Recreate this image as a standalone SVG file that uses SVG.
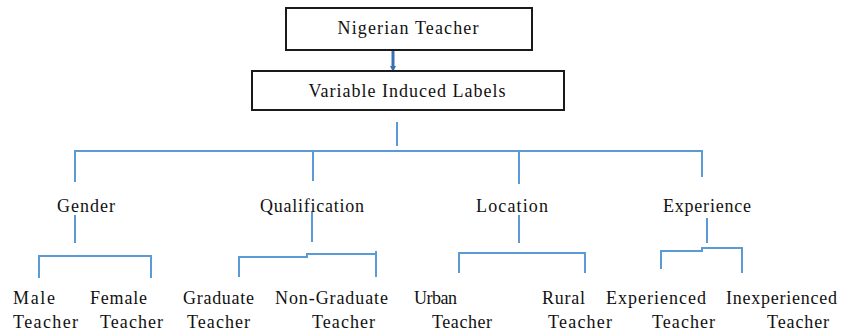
<svg xmlns="http://www.w3.org/2000/svg" width="843" height="335" viewBox="0 0 843 335">
  <style>
    .box { fill: #ffffff; stroke: #1a1a1a; stroke-width: 2; }
    .lbl { font-family: 'Liberation Serif', 'DejaVu Serif', 'Times New Roman', serif; font-size: 18px; fill: #111111; }
    .mid { text-anchor: middle; }
    .conn { fill: none; stroke: #5b9bd5; stroke-width: 2; }
  </style>
  <defs>
    <marker id="head" markerWidth="8" markerHeight="6" refX="2" refY="3" orient="auto" markerUnits="userSpaceOnUse">
      <path d="M0,0 L6,3 L0,6 Z" fill="#3a6fb0"/>
    </marker>
  </defs>
  <rect width="843" height="335" fill="#ffffff"/>

  <!-- connectors -->
  <g id="connectors">
    <line x1="393" y1="51" x2="393" y2="68" stroke="#3a6fb0" stroke-width="3" marker-end="url(#head)"/>
    <path class="conn" d="M397,122 V146"/>
    <path class="conn" d="M75,182 V151 H702 V177"/>
    <path class="conn" d="M313,151 V181"/>
    <path class="conn" d="M519,151 V184"/>
    <!-- gender -->
    <path class="conn" d="M75,215 V243"/>
    <path class="conn" d="M39,278 V256 H151 V278"/>
    <!-- qualification -->
    <path class="conn" d="M312,212 V242"/>
    <path class="conn" d="M239,277 V257 H307 V254 H376 V277 M376,251 V254"/>
    <!-- location -->
    <path class="conn" d="M519,215 V243"/>
    <path class="conn" d="M459,273 V253 H585 V273"/>
    <!-- experience -->
    <path class="conn" d="M707,218 V243"/>
    <path class="conn" d="M661,269 V251 H702 V248 H742 V273"/>
  </g>

  <g id="node-nigerian-teacher">
    <rect class="box" x="286" y="8" width="246" height="42"/>
    <text class="lbl mid" x="408" y="34" textLength="141" lengthAdjust="spacing">Nigerian Teacher</text>
  </g>
  <g id="node-variable-induced-labels">
    <rect class="box" x="252" y="71" width="312" height="39"/>
    <text class="lbl mid" x="407" y="97" textLength="197" lengthAdjust="spacing">Variable Induced Labels</text>
  </g>

  <g id="node-gender"><text class="lbl mid" x="86" y="212" textLength="58" lengthAdjust="spacing">Gender</text></g>
  <g id="node-qualification"><text class="lbl mid" x="312" y="212" textLength="104" lengthAdjust="spacing">Qualification</text></g>
  <g id="node-location"><text class="lbl mid" x="512" y="212" textLength="72" lengthAdjust="spacing">Location</text></g>
  <g id="node-experience"><text class="lbl mid" x="707" y="212" textLength="88" lengthAdjust="spacing">Experience</text></g>

  <g id="node-male-teacher">
    <text class="lbl" x="13" y="304" textLength="42" lengthAdjust="spacing">Male</text>
    <text class="lbl" x="13" y="328" textLength="65" lengthAdjust="spacing">Teacher</text>
  </g>
  <g id="node-female-teacher">
    <text class="lbl" x="90" y="304" textLength="57" lengthAdjust="spacing">Female</text>
    <text class="lbl" x="100" y="328" textLength="63" lengthAdjust="spacing">Teacher</text>
  </g>
  <g id="node-graduate-teacher">
    <text class="lbl" x="183" y="304" textLength="71" lengthAdjust="spacing">Graduate</text>
    <text class="lbl" x="187" y="328" textLength="63" lengthAdjust="spacing">Teacher</text>
  </g>
  <g id="node-non-graduate-teacher">
    <text class="lbl" x="275" y="304" textLength="113" lengthAdjust="spacing">Non-Graduate</text>
    <text class="lbl" x="312" y="328" textLength="63" lengthAdjust="spacing">Teacher</text>
  </g>
  <g id="node-urban-teacher">
    <text class="lbl" x="414" y="304" textLength="43" lengthAdjust="spacing">Urban</text>
    <text class="lbl" x="432" y="328" textLength="60" lengthAdjust="spacing">Teacher</text>
  </g>
  <g id="node-rural-teacher">
    <text class="lbl" x="542" y="304" textLength="43" lengthAdjust="spacing">Rural</text>
    <text class="lbl" x="548" y="328" textLength="64" lengthAdjust="spacing">Teacher</text>
  </g>
  <g id="node-experienced-teacher">
    <text class="lbl" x="606" y="304" textLength="100" lengthAdjust="spacing">Experienced</text>
    <text class="lbl" x="652" y="328" textLength="63" lengthAdjust="spacing">Teacher</text>
  </g>
  <g id="node-inexperienced-teacher">
    <text class="lbl" x="726" y="304" textLength="111" lengthAdjust="spacing">Inexperienced</text>
    <text class="lbl" x="767" y="328" textLength="62" lengthAdjust="spacing">Teacher</text>
  </g>
</svg>
